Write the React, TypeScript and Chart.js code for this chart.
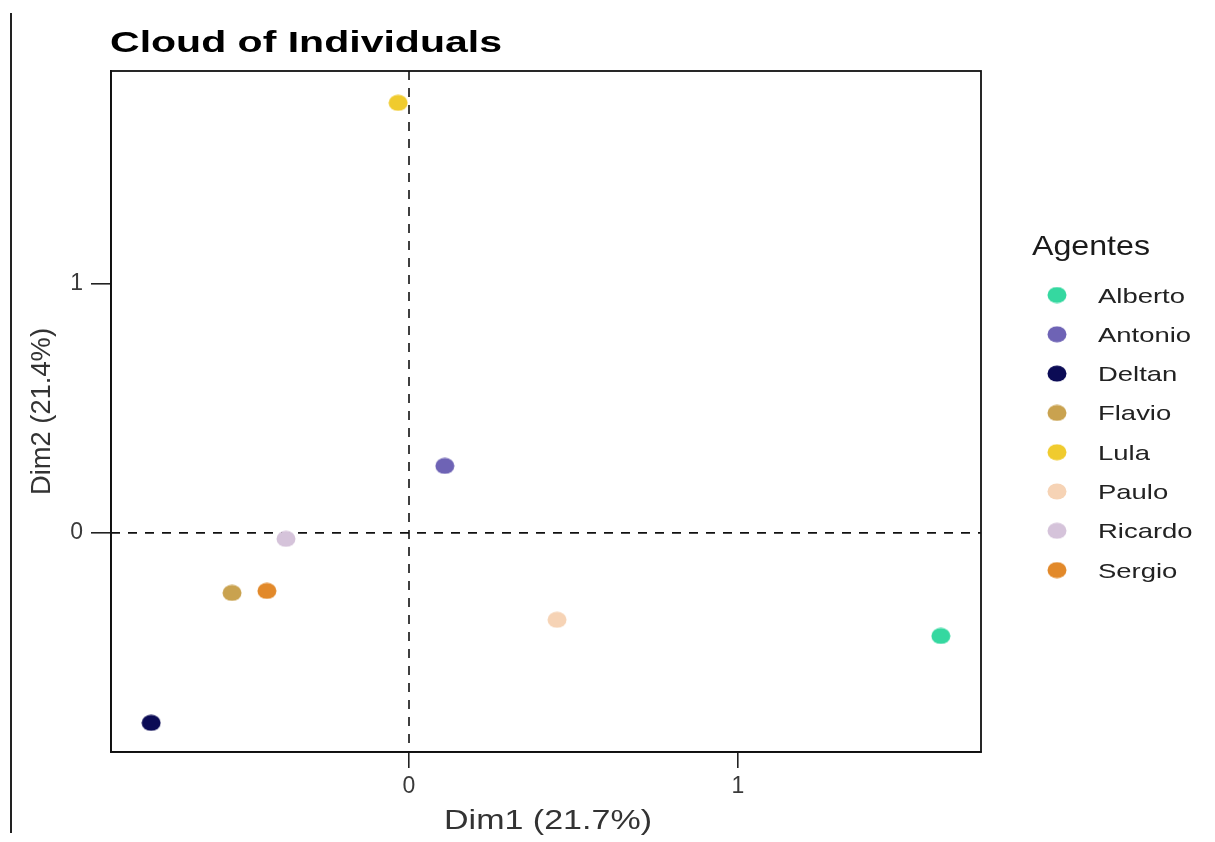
import React, { useEffect, useRef } from "react";
import { Chart, registerables } from "chart.js";

Chart.register(...registerables);

const agents = ["Alberto", "Antonio", "Deltan", "Flavio", "Lula", "Paulo", "Ricardo", "Sergio"];
const dim1 = [1.617, 0.109, -0.784, -0.538, -0.033, 0.45, -0.374, -0.432];
const dim2 = [-0.414, 0.269, -0.763, -0.241, 1.727, -0.349, -0.024, -0.233];
const colors = ["#35D8A0", "#6E63B5", "#0B0B55", "#C9A24F", "#F0CB2E", "#F6D3B5", "#D5C3DA", "#E2892A"];
const xTicks = [0, 1];
const yTicks = [0, 1];
const xRange = [-0.906, 1.739];
const yRange = [-0.88, 1.855];
const chartTitle = "Cloud of Individuals";
const xTitle = "Dim1 (21.7%)";
const yTitle = "Dim2 (21.4%)";
const legendTitle = "Agentes";

const FAMILY = "'Liberation Sans', Arial, sans-serif";

function makeDot(color: string, w = 20, h = 17) {
  const c = document.createElement("canvas");
  c.width = w;
  c.height = h;
  const g = c.getContext("2d")!;
  g.fillStyle = color;
  g.beginPath();
  g.ellipse(w / 2, h / 2, w / 2 - 0.5, h / 2 - 0.5, 0, 0, Math.PI * 2);
  g.fill();
  return c;
}

function drawFit(ctx: CanvasRenderingContext2D, text: string, x: number, y: number, width: number, align: CanvasTextAlign = "left") {
  const m = ctx.measureText(text).width;
  const sx = width / m;
  ctx.save();
  ctx.translate(x, y);
  ctx.scale(sx, 1);
  ctx.textAlign = align;
  ctx.fillText(text, 0, 0);
  ctx.restore();
}

const decor = {
  id: "decor",
  beforeDatasetsDraw(chart: any) {
    const { ctx, chartArea: a, scales } = chart;
    const x0 = scales.x.getPixelForValue(0);
    const y0 = scales.y.getPixelForValue(0);
    ctx.save();
    ctx.beginPath();
    ctx.rect(a.left, a.top, a.right - a.left, a.bottom - a.top);
    ctx.clip();
    ctx.setLineDash([9, 8]);
    ctx.lineWidth = 1.6;
    ctx.strokeStyle = "#111";
    ctx.beginPath();
    ctx.moveTo(x0, a.top);
    ctx.lineTo(x0, a.bottom);
    ctx.moveTo(a.left, y0);
    ctx.lineTo(a.right, y0);
    ctx.stroke();
    ctx.restore();
  },
  afterDraw(chart: any) {
    const { ctx, chartArea: a } = chart;
    ctx.save();
    ctx.lineWidth = 1.8;
    ctx.strokeStyle = "#111";
    ctx.strokeRect(a.left, a.top, a.right - a.left, a.bottom - a.top);

    ctx.fillStyle = "#000";
    ctx.textBaseline = "alphabetic";
    ctx.font = `bold 30px ${FAMILY}`;
    drawFit(ctx, chartTitle, 110, 52, 392);

    ctx.fillStyle = "#333";
    ctx.font = `28px ${FAMILY}`;
    drawFit(ctx, xTitle, 444, 829, 208);

    ctx.save();
    ctx.translate(50, (a.top + a.bottom) / 2);
    ctx.rotate(-Math.PI / 2);
    ctx.font = `28px ${FAMILY}`;
    drawFit(ctx, yTitle, 0, 0, 167, "center");
    ctx.restore();

    ctx.fillStyle = "#1a1a1a";
    ctx.font = `28px ${FAMILY}`;
    drawFit(ctx, legendTitle, 1032, 255, 118);
    ctx.font = `21px ${FAMILY}`;
    const sx = 87 / ctx.measureText(agents[0]).width;
    chart.data.datasets.forEach((ds: any, i: number) => {
      const cy = 295 + i * 39.3;
      const img = ds.pointStyle as HTMLCanvasElement;
      ctx.drawImage(img, 1057 - img.width / 2, cy - img.height / 2);
      ctx.fillStyle = "#222";
      ctx.save();
      ctx.translate(1098, cy + 7.5);
      ctx.scale(sx, 1);
      ctx.textAlign = "left";
      ctx.fillText(ds.label, 0, 0);
      ctx.restore();
    });
    ctx.restore();
  },
};

export default function App() {
  const ref = useRef<HTMLCanvasElement | null>(null);

  useEffect(() => {
    if (!ref.current) return;
    const dots = colors.map((c) => makeDot(c));
    const chart = new Chart(ref.current, {
      type: "scatter",
      data: {
        datasets: agents.map((name, i) => ({
          label: name,
          data: [{ x: dim1[i], y: dim2[i] }],
          backgroundColor: colors[i],
          borderColor: colors[i],
          pointStyle: dots[i] as any,
          pointRadius: 8,
        })),
      },
      options: {
        responsive: false,
        animation: false,
        devicePixelRatio: 1,
        layout: { padding: { top: 71, right: 234, left: 0, bottom: 0 } },
        plugins: {
          legend: { display: false },
          tooltip: { enabled: false },
          title: { display: false },
        },
        scales: {
          x: {
            type: "linear",
            min: xRange[0],
            max: xRange[1],
            afterBuildTicks: (s: any) => {
              s.ticks = xTicks.map((v) => ({ value: v }));
            },
            afterFit: (s: any) => {
              s.height = 90;
            },
            grid: { drawOnChartArea: false, drawTicks: true, tickLength: 16, color: "#222", lineWidth: 1.6 },
            border: { display: true, color: "#111", width: 1.8 },
            ticks: {
              color: "#3a3a3a",
              font: { family: FAMILY, size: 23 },
              padding: 5,
              maxRotation: 0,
              callback: (v: any) => String(v),
            },
          },
          y: {
            type: "linear",
            min: yRange[0],
            max: yRange[1],
            afterBuildTicks: (s: any) => {
              s.ticks = yTicks.map((v) => ({ value: v }));
            },
            afterFit: (s: any) => {
              s.width = 111;
            },
            grid: { drawOnChartArea: false, drawTicks: true, tickLength: 20, color: "#222", lineWidth: 1.6 },
            border: { display: true, color: "#111", width: 1.8 },
            ticks: {
              color: "#3a3a3a",
              font: { family: FAMILY, size: 23 },
              padding: 8,
              callback: (v: any) => String(v),
            },
          },
        },
      },
      plugins: [decor],
    });
    return () => chart.destroy();
  }, []);

  return (
    <div style={{ position: "absolute", left: 0, top: 0, width: 1215, height: 842, background: "#fff" }}>
      <div style={{ position: "absolute", left: 10, top: 13, width: 2, height: 820, background: "#222" }} />
      <canvas ref={ref} width={1215} height={842} style={{ display: "block", width: 1215, height: 842 }} />
    </div>
  );
}
